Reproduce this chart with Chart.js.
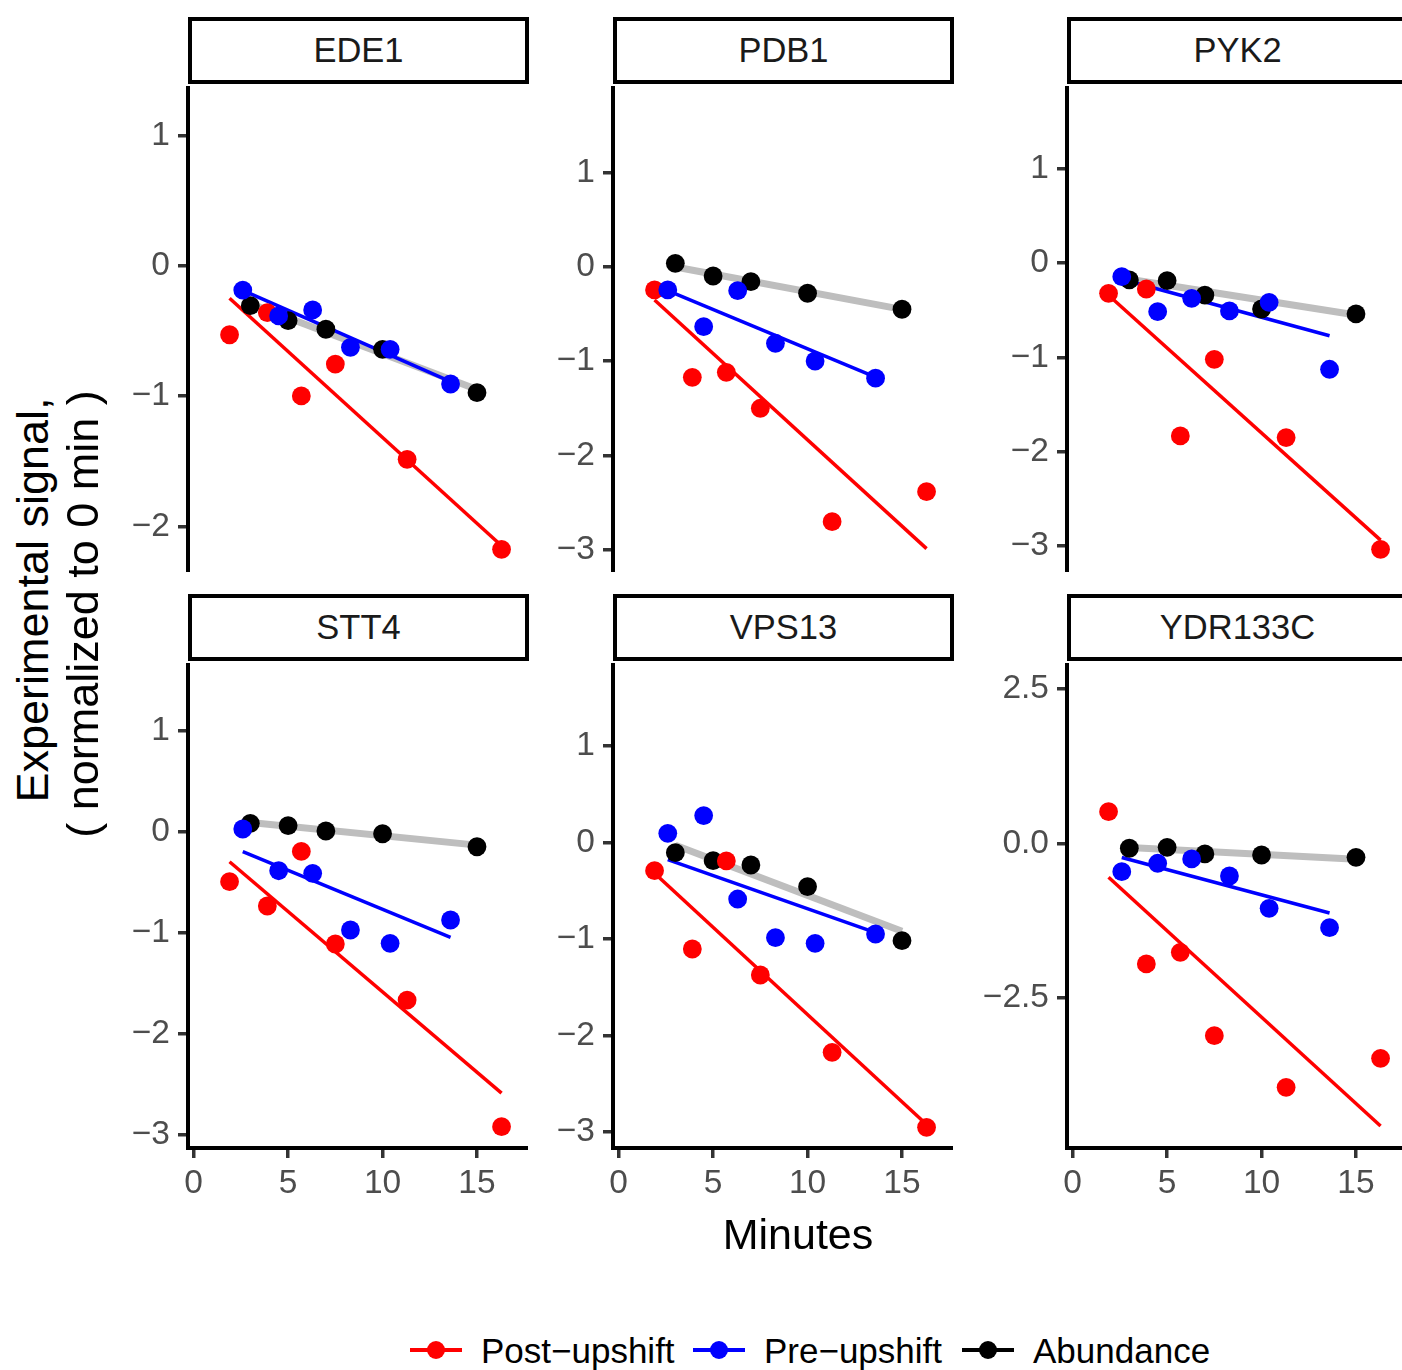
<!DOCTYPE html>
<html>
<head>
<meta charset="utf-8">
<script src="https://cdn.jsdelivr.net/npm/chart.js@4.4.1/dist/chart.umd.min.js"></script>
<style>
  body { margin: 0; background: #fff; font-family: 'Liberation Sans', Arial, sans-serif; }
  #page { position: relative; width: 1402px; height: 1370px; overflow: hidden; background: #fff; }
  #page canvas { position: absolute; }
  .strip { position: absolute; box-sizing: border-box; border: 4px solid #000; background: #fff;
           color: #1A1A1A; font-size: 34.5px; text-align: center; line-height: 59px; }
  .txt { position: absolute; white-space: nowrap; color: #000; }
  .key-line { position: absolute; height: 4px; }
  .key-dot { position: absolute; width: 18px; height: 18px; border-radius: 50%; }
</style>
</head>
<body>
<div id="page"></div>
<script>
// facets and series
const genes = ['EDE1', 'PDB1', 'PYK2', 'STT4', 'VPS13', 'YDR133C'];
const seriesNames = ['Post\u2212upshift', 'Pre\u2212upshift', 'Abundance'];

// minutes for each series
const postX = [1.9, 3.9, 5.7, 7.5, 11.3, 16.3];
const preX = [2.6, 4.5, 6.3, 8.3, 10.4, 13.6];
const abundX = [3, 5, 7, 10, 15];

// signal per gene (same order as genes)
const postY = [
  [-0.53, -0.36, -1.0, -0.755, -1.486, -2.177],
  [-0.244, -1.171, -1.118, -1.5, -2.704, -2.385],
  [-0.32, -0.274, -1.834, -1.02, -1.851, -3.037],
  [-0.493, -0.734, -0.192, -1.111, -1.667, -2.923],
  [-0.294, -1.104, -0.193, -1.373, -2.173, -2.949],
  [0.512, -1.955, -1.766, -3.117, -3.953, -3.483]
];
const preY = [
  [-0.187, -0.386, -0.34, -0.627, -0.642, -0.908],
  [-0.244, -0.634, -0.252, -0.81, -0.998, -1.18],
  [-0.143, -0.515, -0.373, -0.507, -0.415, -1.126],
  [0.03, -0.384, -0.41, -0.972, -1.104, -0.873],
  [0.093, 0.276, -0.587, -0.987, -1.045, -0.949],
  [-0.46, -0.324, -0.254, -0.53, -1.053, -1.367]
];
const abundY = [
  [-0.307, -0.422, -0.488, -0.642, -0.975],
  [0.039, -0.096, -0.156, -0.279, -0.449],
  [-0.178, -0.186, -0.338, -0.486, -0.539],
  [0.086, 0.063, 0.01, -0.017, -0.146],
  [-0.107, -0.19, -0.235, -0.459, -1.018],
  [-0.081, -0.065, -0.173, -0.19, -0.227]
];

// fitted trend lines: value at first and last minute of each series
const postFit = [[-0.25, -2.15], [-0.35, -2.99], [-0.34, -2.94], [-0.295, -2.59], [-0.32, -2.92], [-0.55, -4.58]];
const preFit = [[-0.19, -0.89], [-0.25, -1.17], [-0.17, -0.77], [-0.195, -1.045], [-0.18, -0.935], [-0.23, -1.13]];
const abundFit = [[-0.29, -0.95], [0.0, -0.45], [-0.17, -0.55], [0.095, -0.13], [-0.03, -0.92], [-0.07, -0.26]];

// axes
const yLow = [-2.351, -3.238, -3.278, -3.135, -3.163, -4.936];
const yHigh = [1.379, 1.921, 1.881, 1.677, 1.855, 2.92];
const yTicks = [[-2, -1, 0, 1], [-3, -2, -1, 0, 1], [-3, -2, -1, 0, 1],
                [-3, -2, -1, 0, 1], [-3, -2, -1, 0, 1], [-2.5, 0, 2.5]];
const yTickLabels = [
  ['\u22122', '\u22121', '0', '1'],
  ['\u22123', '\u22122', '\u22121', '0', '1'],
  ['\u22123', '\u22122', '\u22121', '0', '1'],
  ['\u22123', '\u22122', '\u22121', '0', '1'],
  ['\u22123', '\u22122', '\u22121', '0', '1'],
  ['\u22122.5', '0.0', '2.5']
];
const xTicks = [0, 5, 10, 15];
const xTickLabels = ['0', '5', '10', '15'];
const xLow = -0.3, xHigh = 17.7;

// layout
const colAxis = [188, 613, 1067];
const rowTop = [86, 663];
const rowBottom = [572, 1148];
const stripTop = [17, 594];
const panelW = 340;
const axisRoom = 120;
const xAxisRoom = 80;
const RED = '#FF0000', BLUE = '#0000FF', GREY = '#BEBEBE', BLACK = '#000000';
const FONT = "'Liberation Sans', Arial, sans-serif";

const page = document.getElementById('page');

function pts(xs, ys) { return xs.map((x, k) => ({x: x, y: ys[k]})); }
function fitLine(xs, f) {
  return [{x: Math.min(...xs), y: f[0]}, {x: Math.max(...xs), y: f[1]}];
}

genes.forEach((gene, i) => {
  const col = i % 3, row = Math.floor(i / 3);
  const bottomRow = row === 1;
  const plotH = rowBottom[row] - rowTop[row];

  const strip = document.createElement('div');
  strip.className = 'strip';
  strip.style.left = colAxis[col] + 'px';
  strip.style.top = stripTop[row] + 'px';
  strip.style.width = (panelW + 1) + 'px';
  strip.style.height = '67px';
  strip.textContent = gene;
  page.appendChild(strip);

  const cv = document.createElement('canvas');
  const w = axisRoom + panelW, h = plotH + (bottomRow ? xAxisRoom : 0);
  cv.width = w; cv.height = h;
  cv.style.left = (colAxis[col] - axisRoom) + 'px';
  cv.style.top = rowTop[row] + 'px';
  cv.style.width = w + 'px'; cv.style.height = h + 'px';
  page.appendChild(cv);

  const lineDs = (data, color, width, order) => ({
    data: data, showLine: true, borderColor: color, borderWidth: width,
    pointRadius: 0, borderCapStyle: 'butt', order: order, clip: false
  });
  const pointDs = (data, color, order) => ({
    data: data, showLine: false, backgroundColor: color, borderWidth: 0,
    pointRadius: 9.4, pointHoverRadius: 9.4, order: order, clip: false
  });

  new Chart(cv.getContext('2d'), {
    type: 'scatter',
    data: {
      datasets: [
        pointDs(pts(preX, preY[i]), BLUE, 1),
        pointDs(pts(postX, postY[i]), RED, 2),
        pointDs(pts(abundX, abundY[i]), BLACK, 3),
        lineDs(fitLine(preX, preFit[i]), BLUE, 3.5, 4),
        lineDs(fitLine(postX, postFit[i]), RED, 3.5, 5),
        lineDs(fitLine(abundX, abundFit[i]), GREY, 7, 6)
      ]
    },
    options: {
      responsive: false,
      animation: false,
      devicePixelRatio: 1,
      layout: {padding: 0, autoPadding: false},
      plugins: {legend: {display: false}, tooltip: {enabled: false}},
      scales: {
        x: {
          type: 'linear', min: xLow, max: xHigh, display: bottomRow,
          afterBuildTicks: (a) => { a.ticks = xTicks.map(v => ({value: v})); },
          afterFit: (s) => {
            if (bottomRow) s.height = xAxisRoom;
            s.paddingLeft = 0; s.paddingRight = 0;
          },
          border: {display: true, color: BLACK, width: 4},
          grid: {drawOnChartArea: false, drawTicks: true, tickLength: 10, color: '#333333', lineWidth: 3.5},
          ticks: {
            autoSkip: false, maxRotation: 0, padding: 6, color: '#4D4D4D',
            font: {family: FONT, size: 33.5},
            callback: (v, k) => xTickLabels[k]
          }
        },
        y: {
          type: 'linear', min: yLow[i], max: yHigh[i],
          afterBuildTicks: (a) => { a.ticks = yTicks[i].map(v => ({value: v})); },
          afterFit: (s) => { s.width = axisRoom; s.paddingTop = 0; s.paddingBottom = 0; },
          border: {display: true, color: BLACK, width: 4},
          grid: {drawOnChartArea: false, drawTicks: true, tickLength: 10, color: '#333333', lineWidth: 3.5},
          ticks: {
            autoSkip: false, padding: 8, color: '#4D4D4D',
            font: {family: FONT, size: 33.5},
            callback: (v, k) => yTickLabels[i][k]
          }
        }
      }
    }
  });
});

// axis titles (y title: two rotated lines)
const yTitleLines = ['Experimental signal,', '( normalized to 0 min )'];
const yTitleLeft = [-267, -217];
const yTitleTop = [575, 589];
yTitleLines.forEach((s, k) => {
  const d = document.createElement('div');
  d.className = 'txt';
  d.style.cssText += 'font-size:45px;line-height:50px;width:600px;height:50px;text-align:center;' +
    'transform:rotate(-90deg);transform-origin:50% 50%;';
  d.style.left = yTitleLeft[k] + 'px';
  d.style.top = yTitleTop[k] + 'px';
  d.textContent = s;
  page.appendChild(d);
});

const xTitle = document.createElement('div');
xTitle.className = 'txt';
xTitle.style.cssText += 'font-size:43px;line-height:50px;width:400px;text-align:center;left:598px;top:1209px;';
xTitle.textContent = 'Minutes';
page.appendChild(xTitle);

// legend
const legendColors = [RED, BLUE, BLACK];
const legendKeyLeft = [410, 693, 962];
const legendTextLeft = [481, 764, 1033];
seriesNames.forEach((name, k) => {
  const ln = document.createElement('div');
  ln.className = 'key-line';
  ln.style.left = legendKeyLeft[k] + 'px';
  ln.style.width = '52px';
  ln.style.top = '1348px';
  ln.style.background = legendColors[k];
  page.appendChild(ln);
  const dot = document.createElement('div');
  dot.className = 'key-dot';
  dot.style.left = (legendKeyLeft[k] + 17) + 'px';
  dot.style.top = '1341px';
  dot.style.background = legendColors[k];
  page.appendChild(dot);
  const t = document.createElement('div');
  t.className = 'txt';
  t.style.cssText += 'font-size:35px;line-height:40px;top:1331px;';
  t.style.left = legendTextLeft[k] + 'px';
  t.textContent = name;
  page.appendChild(t);
});
</script>
</body>
</html>
